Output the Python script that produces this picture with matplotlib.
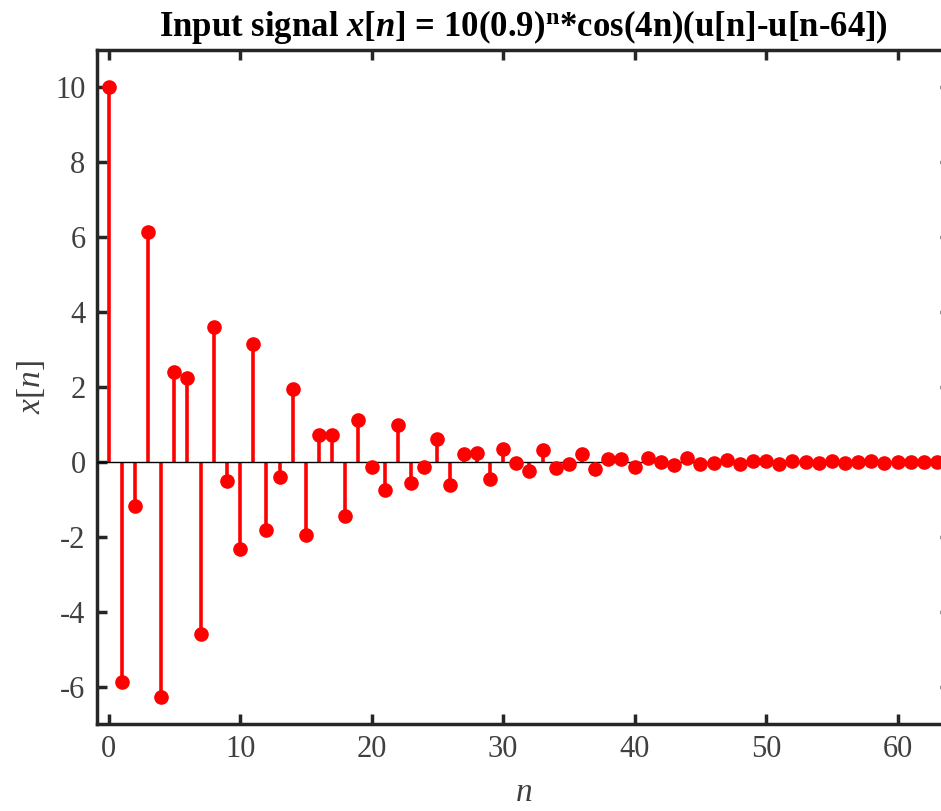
import matplotlib
matplotlib.use("Agg")
import matplotlib.pyplot as plt
import numpy as np

# sample index and signal values
n = np.arange(0, 64)
x_vals = [10.00, -5.88, -1.18, 6.15, -6.28, 2.41, 2.25, -4.60, 3.59, -0.50,
          -2.33, 3.14, -1.81, -0.41, 1.95, -1.96, 0.73, 0.73, -1.45, 1.11,
          -0.13, -0.74, 0.98, -0.56, -0.14, 0.62, -0.61, 0.22, 0.24, -0.46,
          0.35, -0.04, -0.24, 0.31, -0.17, -0.05, 0.20, -0.19, 0.07, 0.08,
          -0.14, 0.11, -0.01, -0.08, 0.10, -0.05, -0.02, 0.06, -0.06, 0.02,
          0.03, -0.05, 0.03, 0.00, -0.02, 0.03, -0.02, -0.01, 0.02, -0.02,
          0.01, 0.01, -0.01, 0.01]
x_ticks = [0, 10, 20, 30, 40, 50, 60]
y_ticks = [-6, -4, -2, 0, 2, 4, 6, 8, 10]

plt.rcParams['font.family'] = 'Liberation Serif'
plt.rcParams['axes.unicode_minus'] = False
plt.rcParams['mathtext.fontset'] = 'custom'
plt.rcParams['mathtext.rm'] = 'Liberation Serif'
plt.rcParams['mathtext.it'] = 'Liberation Serif:italic'
plt.rcParams['mathtext.bf'] = 'Liberation Serif:bold'
plt.rcParams['mathtext.bfit'] = 'Liberation Serif:italic:bold'

fig = plt.figure(figsize=(9.41, 8.11), dpi=100)
ax = fig.add_axes([0.1028, 0.1073, 0.907, 0.831])

markerline, stemlines, baseline = ax.stem(n, x_vals, linefmt='r-', markerfmt='ro', basefmt='k-')
stemlines.set_linewidth(2.6)
stemlines.set_zorder(2)
markerline.set_markersize(9.5)
markerline.set_zorder(4)
baseline.set_visible(False)
ax.axhline(0, color='black', linewidth=1.0, zorder=3)

ax.set_xlim(-0.9, 64)
ax.set_ylim(-7, 11)
ax.set_xticks(x_ticks)
ax.set_yticks(y_ticks)

for s in ax.spines.values():
    s.set_linewidth(2.5)
    s.set_color('#262626')
ax.tick_params(direction='in', length=7, width=2.5, color='#262626',
               top=True, right=True, labelsize=22, labelcolor='#404040', pad=8)

ax.set_title(r'Input signal $\mathbfit{x}$[$\mathbfit{n}$] = 10(0.9)$^{\mathbf{n}}$*cos(4n)(u[n]-u[n-64])',
             fontsize=25, fontweight='bold', pad=10)
ax.set_xlabel(r'$n$', fontsize=24, color='#404040', labelpad=10)
ax.set_ylabel(r'$x$[$n$]', fontsize=24, color='#404040', labelpad=6)

fig.savefig('out.png', dpi=100)
